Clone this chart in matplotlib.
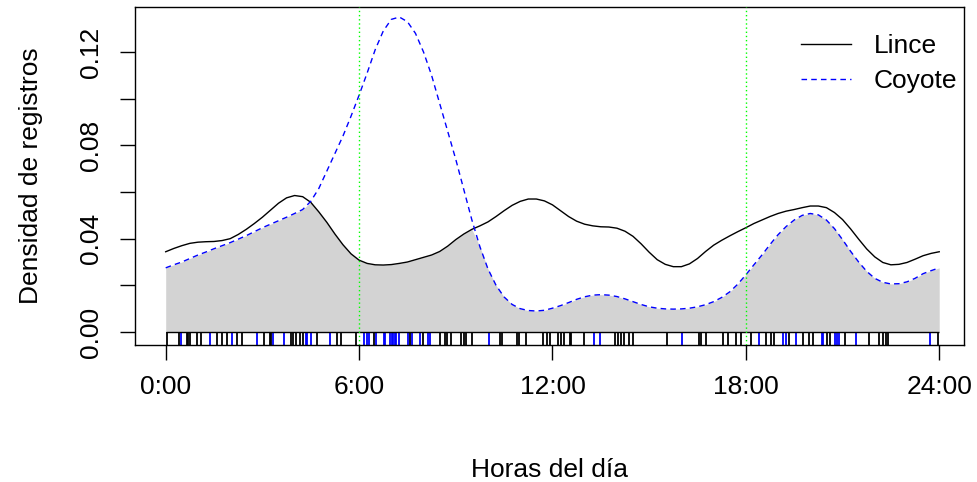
import numpy as np
import matplotlib
matplotlib.use("Agg")
import matplotlib.pyplot as plt
from matplotlib.lines import Line2D

plt.rcParams['font.family'] = ['Liberation Sans', 'DejaVu Sans']

hours = [i * 0.25 for i in range(97)]
lince = [0.0344, 0.0358, 0.0370, 0.0380, 0.0385, 0.0387, 0.0388, 0.0392,
         0.0400, 0.0418, 0.0440, 0.0465, 0.0492, 0.0522, 0.0552, 0.0575,
         0.0585, 0.0580, 0.0556, 0.0515, 0.0470, 0.0420, 0.0374, 0.0335,
         0.0308, 0.0294, 0.0288, 0.0287, 0.0289, 0.0294, 0.0300, 0.0310,
         0.0320, 0.0330, 0.0345, 0.0368, 0.0396, 0.0420, 0.0440, 0.0455,
         0.0472, 0.0495, 0.0520, 0.0543, 0.0560, 0.0570, 0.0570, 0.0562,
         0.0545, 0.0520, 0.0495, 0.0475, 0.0462, 0.0455, 0.0451, 0.0450,
         0.0445, 0.0432, 0.0410, 0.0378, 0.0342, 0.0310, 0.0290, 0.0280,
         0.0280, 0.0292, 0.0315, 0.0345, 0.0372, 0.0393, 0.0412, 0.0430,
         0.0447, 0.0465, 0.0480, 0.0495, 0.0508, 0.0518, 0.0525, 0.0533,
         0.0540, 0.0540, 0.0533, 0.0512, 0.0482, 0.0442, 0.0398, 0.0356,
         0.0322, 0.0298, 0.0288, 0.0290, 0.0298, 0.0312, 0.0327, 0.0337,
         0.0344]
coyote = [0.0275, 0.0288, 0.0300, 0.0315, 0.0330, 0.0343, 0.0357, 0.0370,
          0.0383, 0.0398, 0.0413, 0.0430, 0.0447, 0.0462, 0.0477, 0.0492,
          0.0508, 0.0525, 0.0560, 0.0615, 0.0690, 0.0765, 0.0840, 0.0925,
          0.1015, 0.1110, 0.1210, 0.1290, 0.1340, 0.1350, 0.1330, 0.1280,
          0.1200, 0.1100, 0.0980, 0.0860, 0.0740, 0.0610, 0.0480, 0.0365,
          0.0270, 0.0200, 0.0150, 0.0118, 0.0100, 0.0092, 0.0090, 0.0093,
          0.0102, 0.0113, 0.0126, 0.0140, 0.0151, 0.0158, 0.0160, 0.0158,
          0.0152, 0.0142, 0.0130, 0.0118, 0.0108, 0.0102, 0.0099, 0.0098,
          0.0099, 0.0102, 0.0108, 0.0117, 0.0130, 0.0148, 0.0172, 0.0205,
          0.0245, 0.0288, 0.0330, 0.0375, 0.0417, 0.0452, 0.0480, 0.0500,
          0.0508, 0.0502, 0.0480, 0.0443, 0.0396, 0.0346, 0.0300, 0.0260,
          0.0230, 0.0213, 0.0206, 0.0207, 0.0215, 0.0230, 0.0250, 0.0263,
          0.0275]

# Individual records (rug), hours of the day
rug_lince = [0.03, 0.41, 0.65, 0.70, 0.75, 0.96, 1.08, 1.58, 1.74, 1.91, 2.22, 2.36, 3.05,
             3.23, 3.27, 3.90, 3.95, 4.03, 4.16, 4.25, 4.68, 5.32, 5.45, 5.89, 6.45, 7.57,
             7.98, 8.50, 8.66, 8.73, 8.86, 9.17, 9.24, 9.33, 9.51, 10.38, 10.44, 10.90,
             10.96, 11.17, 11.70, 11.83, 11.91, 12.17, 12.27, 12.37, 12.53, 12.58, 12.99,
             13.95, 14.03, 14.14, 14.23, 14.39, 14.51, 15.54, 16.54, 16.61, 16.77, 17.28,
             17.44, 17.70, 17.85, 18.15, 18.64, 18.78, 18.88, 19.35, 19.76, 19.97, 20.07,
             20.53, 20.61, 21.08, 21.83, 22.14, 22.26, 22.34, 22.42, 23.97]
rug_coyote = [0.46, 1.37, 2.06, 2.82, 3.32, 3.67, 4.34, 4.39, 4.52, 5.11, 6.16, 6.25, 6.31,
              6.52, 6.76, 6.80, 6.97, 7.01, 7.06, 7.11, 7.16, 7.24, 7.52, 7.65, 7.90, 8.14,
              8.21, 10.03, 13.28, 13.48, 16.01, 18.41, 19.16, 19.24, 19.55, 20.36, 20.40,
              20.77, 20.84, 20.90, 21.41, 23.70]

xticks = [0, 6, 12, 18, 24]
xticklabels = ["0:00", "6:00", "12:00", "18:00", "24:00"]
yticks = [0.00, 0.02, 0.04, 0.06, 0.08, 0.10, 0.12]
yticklabels = ["0.00", "", "0.04", "", "0.08", "", "0.12"]
vlines_at = [6, 18]

W, H = 977, 482
fig = plt.figure(figsize=(W / 100, H / 100), dpi=100)
L, R, T, B = 135, 964, 7, 345
ax = fig.add_axes([L / W, (H - B) / H, (R - L) / W, (B - T) / H])

x0_px, px_per_h = 165.7, 32.23
ax.set_xlim((L - x0_px) / px_per_h, (R - x0_px) / px_per_h)
y0_px, px_per_unit = 332, 2333
ax.set_ylim(-(B - y0_px) / px_per_unit, (y0_px - T) / px_per_unit)

h = np.array(hours)
a = np.array(lince)
c = np.array(coyote)
ax.fill_between(h, 0, np.minimum(a, c), color="#D3D3D3", linewidth=0, zorder=1)
ax.plot(h, a, color="black", lw=1.0, zorder=3)
ax.plot(h, c, color="blue", lw=1.0, linestyle=(0, (4, 3)), zorder=3)

for v in vlines_at:
    ax.axvline(v, color="#00FF00", lw=1.0, linestyle=(0, (1, 2)), zorder=4)

ybot = ax.get_ylim()[0]
ax.vlines(rug_lince, ybot, 0, colors="black", lw=1.3, zorder=2)
ax.vlines(rug_coyote, ybot, 0, colors="blue", lw=1.3, zorder=2)
ax.hlines(0, 0, 24, colors="black", lw=1.0, zorder=2)

fs = 19
ax.set_xticks(xticks)
ax.set_xticklabels(xticklabels, fontsize=fs)
ax.set_yticks(yticks)
ax.set_yticklabels(yticklabels, fontsize=fs, rotation=90, va="center")
ax.tick_params(axis="both", direction="out", length=10.8, width=1.0, color="black")
ax.tick_params(axis="x", pad=11)
ax.tick_params(axis="y", pad=12)
for s in ax.spines.values():
    s.set_linewidth(1.0)
    s.set_color("black")

ax.set_xlabel("Horas del día", fontsize=fs, labelpad=42)
ax.set_ylabel("Densidad de registros", fontsize=fs, labelpad=26)

handles = [Line2D([0], [0], color="black", lw=1.0),
           Line2D([0], [0], color="blue", lw=1.0, linestyle=(0, (4, 3)))]
fig.legend(handles, ["Lince", "Coyote"], loc="upper left",
           bbox_to_anchor=(788 / W, 1 - 21 / H), frameon=False, fontsize=fs,
           handlelength=1.9, handletextpad=0.85, labelspacing=0.4, borderpad=0)

fig.savefig("out.png", dpi=100)
